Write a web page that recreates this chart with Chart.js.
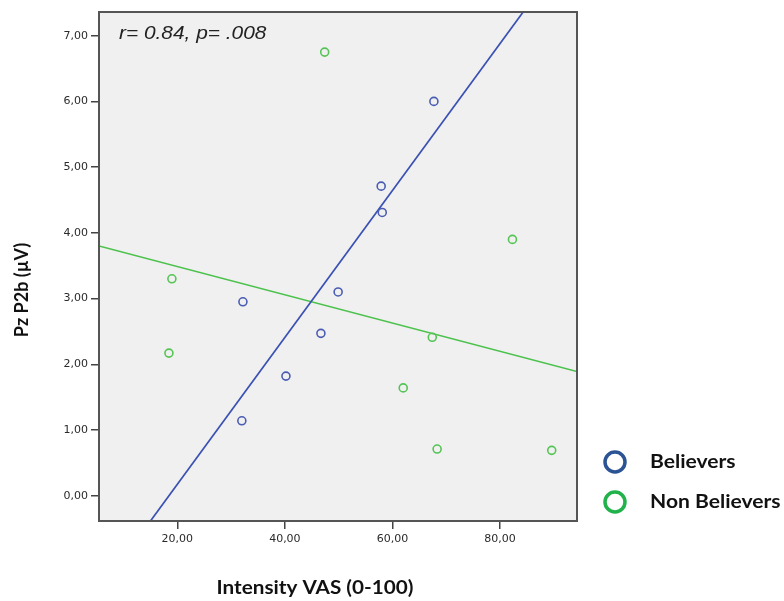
<!DOCTYPE html>
<html>
<head>
<meta charset="utf-8">
<script src="https://cdn.jsdelivr.net/npm/chart.js@4.4.0/dist/chart.umd.min.js"></script>
<style>
  html,body{margin:0;padding:0;background:#fff;}
  #wrap{width:784px;height:601px;}
</style>
</head>
<body>
<div id="wrap"><canvas id="c" width="784" height="601"></canvas></div>
<script>
// data
const believersX = [32.2, 32.0, 40.2, 46.7, 49.9, 57.9, 58.1, 67.7];
const believersY = [2.95, 1.14, 1.82, 2.47, 3.10, 4.71, 4.31, 6.00];
const nonBelieversX = [47.4, 82.3, 19.0, 18.45, 67.4, 62.0, 68.3, 89.6];
const nonBelieversY = [6.75, 3.90, 3.30, 2.17, 2.41, 1.64, 0.71, 0.69];
const seriesNames = ['Believers', 'Non Believers'];
const xTicks = [20, 40, 60, 80];
const yTicks = [0, 1, 2, 3, 4, 5, 6, 7];
const xRange = [5.45, 94.3];
const yRange = [-0.385, 7.36];
const statText = 'r= 0.84, p= .008';

const blueDot = '#4a5cb3', blueLine = '#3a50b2', blueLeg = '#2c5494';
const greenDot = '#55c455', greenLine = '#4cc24c', greenLeg = '#22b24c';

function pts(xs, ys){ return xs.map((x,i)=>({x:x, y:ys[i]})); }

// least squares fit line across the x range
function fit(xs, ys){
  const n = xs.length;
  const mx = xs.reduce((a,b)=>a+b,0)/n, my = ys.reduce((a,b)=>a+b,0)/n;
  let sxy=0, sxx=0;
  xs.forEach((x,i)=>{ sxy += (x-mx)*(ys[i]-my); sxx += (x-mx)*(x-mx); });
  const b = sxy/sxx, a = my - b*mx;
  return xRange.map(x=>({x:x, y:a+b*x}));
}

const fmt = v => v.toFixed(2).replace('.', ',');

// text in the original is a bit wider than the fonts we have
function wideText(ctx, t, x, y, sx){
  ctx.save();
  ctx.translate(x, y);
  ctx.scale(sx, 1);
  ctx.fillText(t, 0, 0);
  ctx.restore();
}

const frame = {
  id:'frame',
  beforeDatasetsDraw(chart){
    const {ctx, chartArea:{left,right,top,bottom}} = chart;
    ctx.save();
    ctx.fillStyle = '#f0f0f0';
    ctx.fillRect(left, top, right-left, bottom-top);
    ctx.restore();
  },
  afterDraw(chart){
    const {ctx, chartArea:{left,right,top,bottom}} = chart;
    ctx.save();
    ctx.strokeStyle = '#555';
    ctx.lineWidth = 2;
    ctx.strokeRect(left, top, right-left, bottom-top);

    // stats text
    ctx.fillStyle = '#222';
    ctx.font = 'italic 18px "Liberation Sans", Arial, sans-serif';
    ctx.textBaseline = 'middle';
    ctx.textAlign = 'left';
    wideText(ctx, statText, 119, 34, 1.16);

    // axis titles
    ctx.fillStyle = '#111';
    ctx.font = 'bold 18px Lato, "Open Sans", sans-serif';
    ctx.textAlign = 'center';
    wideText(ctx, 'Intensity VAS (0-100)', 315, 588, 1.15);
    ctx.save();
    ctx.translate(22, 290);
    ctx.rotate(-Math.PI/2);
    ctx.fillText('Pz P2b (\u00b5V)', 0, 0);
    ctx.restore();

    // legend
    const items = [[seriesNames[0], blueLeg, 462], [seriesNames[1], greenLeg, 502]];
    ctx.textAlign = 'left';
    items.forEach(([t, c, y])=>{
      ctx.beginPath();
      ctx.arc(615, y, 10, 0, Math.PI*2);
      ctx.strokeStyle = c; ctx.lineWidth = 3.5; ctx.stroke();
      ctx.fillStyle = '#111';
      wideText(ctx, t, 650, y, 1.17);
    });
    ctx.restore();
  }
};

const tickFont = { family:'"DejaVu Sans", Verdana, sans-serif', size:11 };

new Chart(document.getElementById('c'), {
  type:'scatter',
  data:{
    datasets:[
      { label:seriesNames[0], data:pts(believersX, believersY), borderColor:blueDot,
        backgroundColor:'rgba(0,0,0,0)', pointRadius:4, pointBorderWidth:1.6 },
      { label:seriesNames[1], data:pts(nonBelieversX, nonBelieversY), borderColor:greenDot,
        backgroundColor:'rgba(0,0,0,0)', pointRadius:4, pointBorderWidth:1.6 },
      { type:'line', label:'fit1', data:fit(believersX, believersY), borderColor:blueLine,
        borderWidth:1.7, pointRadius:0, fill:false },
      { type:'line', label:'fit2', data:fit(nonBelieversX, nonBelieversY), borderColor:greenLine,
        borderWidth:1.6, pointRadius:0, fill:false }
    ]
  },
  options:{
    responsive:false, animation:false,
    layout:{ padding:{ top:12, right:207, left:0, bottom:0 } },
    plugins:{ legend:{display:false}, tooltip:{enabled:false} },
    scales:{
      x:{
        type:'linear', min:xRange[0], max:xRange[1],
        afterFit(s){ s.height = 80; },
        afterBuildTicks(s){ s.ticks = xTicks.map(v=>({value:v})); },
        ticks:{ callback:fmt, color:'#2a2a2a', padding:4, maxRotation:0, font:tickFont },
        grid:{ drawOnChartArea:false, drawTicks:true, tickLength:8, color:'#444', lineWidth:1.5 },
        border:{ display:false }
      },
      y:{
        type:'linear', min:yRange[0], max:yRange[1],
        afterFit(s){ s.width = 99; },
        afterBuildTicks(s){ s.ticks = yTicks.map(v=>({value:v})); },
        ticks:{ callback:fmt, color:'#2a2a2a', padding:3, font:tickFont },
        grid:{ drawOnChartArea:false, drawTicks:true, tickLength:8, color:'#444', lineWidth:1.5 },
        border:{ display:false }
      }
    }
  },
  plugins:[frame]
});
</script>
</body>
</html>
